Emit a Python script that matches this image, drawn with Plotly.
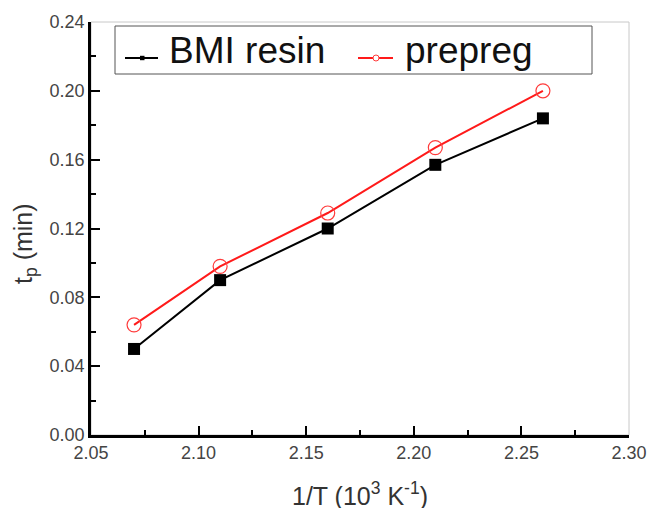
import plotly.graph_objects as go

x_vals = [2.07, 2.11, 2.16, 2.21, 2.26]
bmi_resin = [0.050, 0.090, 0.120, 0.157, 0.184]
prepreg = [0.064, 0.098, 0.129, 0.167, 0.200]
x_ticks = [2.05, 2.10, 2.15, 2.20, 2.25, 2.30]
y_ticks = [0.00, 0.04, 0.08, 0.12, 0.16, 0.20, 0.24]
series_names = ["BMI resin", "prepreg"]

black = "black"
red = "#ff1a1a"
font_family = "Liberation Sans, Arial, sans-serif"

# page geometry (body margin removed via post_script)
PLOT_L, PLOT_T, PLOT_W, PLOT_H = 91, 22, 538, 413
FIG_W, FIG_H = 649, 508


def px(X):
    return (X - PLOT_L) / PLOT_W


def py(Y):
    return (PLOT_T + PLOT_H - Y) / PLOT_H


fig = go.Figure()
fig.add_trace(go.Scatter(
    x=x_vals, y=bmi_resin, mode="lines+markers", name=series_names[0], showlegend=False,
    line=dict(color=black, width=2),
    marker=dict(symbol="square", size=12, color=black),
))
fig.add_trace(go.Scatter(
    x=x_vals, y=prepreg, mode="lines+markers", name=series_names[1], showlegend=False,
    line=dict(color=red, width=2),
    marker=dict(symbol="circle-open", size=14, color="#ff3b3b", line=dict(width=1.2)),
))

shapes = [
    # light frame (top/right)
    dict(type="rect", xref="paper", yref="paper", x0=0, x1=1, y0=0, y1=1,
         line=dict(color="#c8c8c8", width=1), layer="below"),
    # legend box
    dict(type="rect", xref="paper", yref="paper", x0=px(115), x1=px(592), y0=py(74), y1=py(26),
         line=dict(color="#555555", width=1), fillcolor="white", layer="above"),
    # legend samples
    dict(type="line", xref="paper", yref="paper", x0=px(125), x1=px(158), y0=py(58), y1=py(58),
         line=dict(color=black, width=2)),
    dict(type="rect", xref="paper", yref="paper", x0=px(140), x1=px(144.5), y0=py(60.2), y1=py(55.8),
         line=dict(color=black, width=0), fillcolor=black),
    dict(type="line", xref="paper", yref="paper", x0=px(358), x1=px(393), y0=py(58), y1=py(58),
         line=dict(color=red, width=2)),
    dict(type="circle", xref="paper", yref="paper", x0=px(373), x1=px(379), y0=py(61), y1=py(55),
         line=dict(color="#ff3b3b", width=1), fillcolor="white"),
]

annotations = [
    dict(text=series_names[0], xref="paper", yref="paper", x=px(168), y=py(50),
         xanchor="left", yanchor="middle", showarrow=False, borderpad=0,
         font=dict(size=37, color="#111111", family=font_family)),
    dict(text=series_names[1], xref="paper", yref="paper", x=px(404), y=py(50),
         xanchor="left", yanchor="middle", showarrow=False, borderpad=0,
         font=dict(size=37, color="#111111", family=font_family)),
    dict(text="1/T (10<sup>3</sup> K<sup>-1</sup>)", xref="paper", yref="paper",
         x=0.5, y=py(494), xanchor="center", yanchor="middle", borderpad=0,
         showarrow=False, font=dict(size=25, color="#333333", family=font_family)),
    dict(text="t<sub>p</sub> (min)", xref="paper", yref="paper",
         x=px(25), y=py(244), xanchor="center", yanchor="middle", borderpad=0,
         textangle=-90, showarrow=False, font=dict(size=25, color="#333333", family=font_family)),
]

fig.update_layout(
    width=FIG_W, height=FIG_H,
    margin=dict(l=PLOT_L, r=FIG_W - PLOT_L - PLOT_W, t=PLOT_T, b=FIG_H - PLOT_T - PLOT_H),
    paper_bgcolor="white", plot_bgcolor="white",
    font=dict(family=font_family, color="#333333"),
    showlegend=False,
    shapes=shapes,
    annotations=annotations,
)
fig.update_xaxes(
    range=[2.05, 2.30], tickvals=x_ticks, ticktext=[f"{v:.2f}" for v in x_ticks],
    automargin=False,
    showgrid=False, zeroline=False, showline=True, linecolor="black", linewidth=2.5,
    ticks="inside", ticklen=9, tickwidth=2, tickcolor="black",
    minor=dict(ticks="inside", ticklen=5, tickwidth=1.5, tickcolor="black", dtick=0.025, tick0=2.05),
    tickfont=dict(size=18, color="#444444"),
)
fig.update_yaxes(
    range=[0, 0.24], tickvals=y_ticks, ticktext=[f"{v:.2f}" for v in y_ticks],
    automargin=False,
    showgrid=False, zeroline=False, showline=True, linecolor="black", linewidth=2.5,
    ticks="inside", ticklen=9, tickwidth=2, tickcolor="black",
    minor=dict(ticks="inside", ticklen=5, tickwidth=1.5, tickcolor="black", dtick=0.02, tick0=0),
    tickfont=dict(size=18, color="#444444"),
)

fig.write_html(
    "out.html",
    config={"displayModeBar": False},
    post_script="document.body.style.margin='0px';document.documentElement.style.overflow='hidden';document.body.style.overflow='hidden';",
)
